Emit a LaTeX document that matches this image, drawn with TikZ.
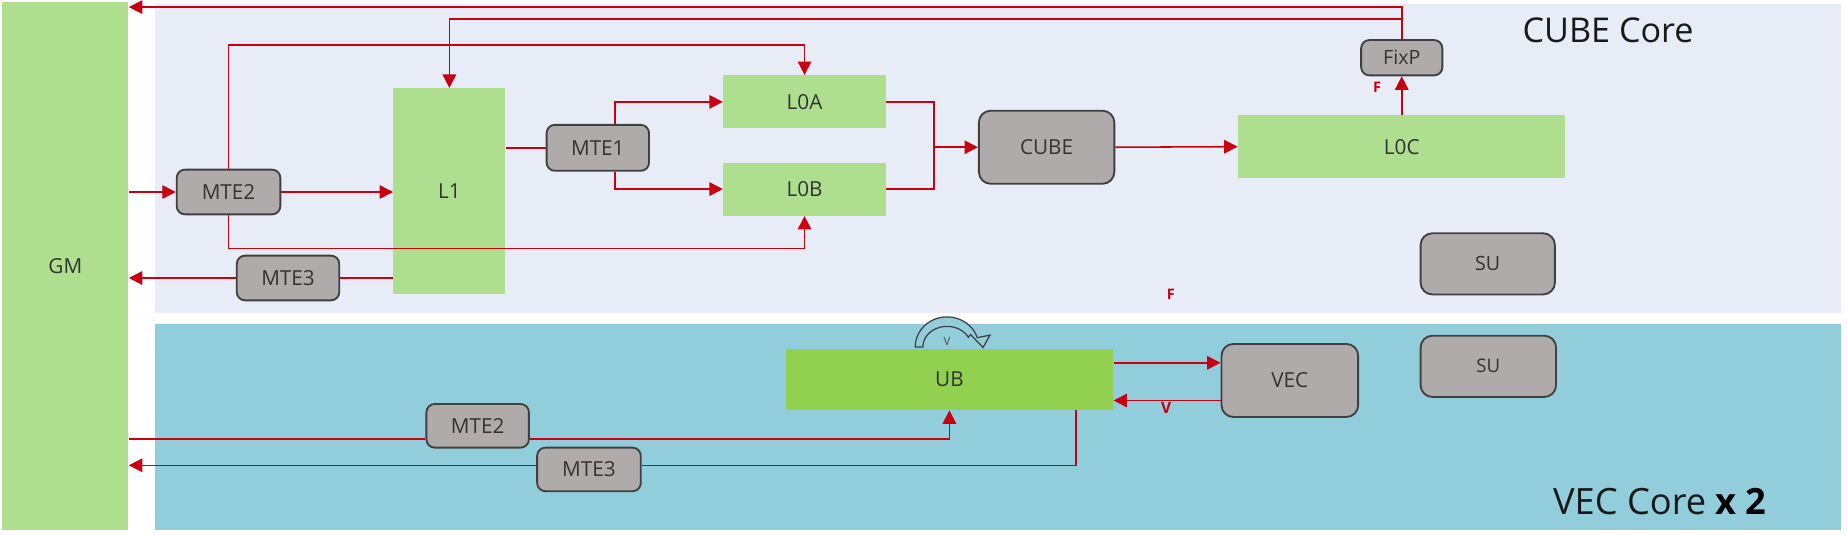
\documentclass[tikz,border=0pt]{standalone}
\usepackage{fontspec}
\setmainfont{Open Sans}
\usetikzlibrary{arrows.meta}
\definecolor{cubebg}{RGB}{232,236,247}
\definecolor{vecbg}{RGB}{146,205,220}
\definecolor{memgrn}{RGB}{173,223,143}
\definecolor{ubgrn}{RGB}{146,208,80}
\definecolor{unitgray}{RGB}{175,171,171}
\definecolor{wirered}{RGB}{200,0,16}
\begin{document}
\begin{tikzpicture}[x=0.02cm, y=0.02cm, >={Triangle[length=6.5pt,width=6.5pt]}, every node/.style={font=\fontsize{10}{11}\selectfont, text=black!80}]
  \tikzstyle{mem}=[fill=memgrn, inner sep=0pt]
  \tikzstyle{unit}=[draw=black!75, fill=unitgray, rounded corners=0.14cm, line width=0.9pt, inner sep=0pt]
  \tikzstyle{wire}=[wirered, line width=0.75pt]
  \tikzstyle{tag}=[text=wirered, font=\fontsize{7}{7}\selectfont\bfseries, inner sep=0pt]
  \useasboundingbox (0,0) rectangle (1568,454);
  \fill[cubebg] (132,188) rectangle (1563,451);
  \fill[vecbg] (132,4) rectangle (1563,179);
  \node[mem, minimum width=2.14cm, minimum height=8.96cm] (gm) at (55.5,228) {GM};
  \node[unit, minimum width=1.76cm, minimum height=0.76cm] (mteA) at (194,291) {MTE2};
  \node[mem, minimum width=1.9cm, minimum height=3.5cm] (lone) at (381.5,291.5) {L1};
  \node[unit, minimum width=1.74cm, minimum height=0.76cm] (mteB) at (244.5,218) {MTE3};
  \node[unit, minimum width=1.74cm, minimum height=0.78cm] (mteC) at (507.5,328.5) {MTE1};
  \node[mem, minimum width=2.76cm, minimum height=0.9cm] (lza) at (683,367.5) {L0A};
  \node[mem, minimum width=2.76cm, minimum height=0.9cm] (lzb) at (683,293.5) {L0B};
  \node[unit, rounded corners=0.2cm, minimum width=2.3cm, minimum height=1.24cm] (cube) at (888.5,329) {CUBE};
  \node[mem, minimum width=5.56cm, minimum height=1.06cm] (lzc) at (1190,329.5) {L0C};
  \node[unit, minimum width=1.38cm, minimum height=0.6cm, font=\fontsize{9.5}{10}\selectfont] (fixp) at (1190,405) {FixP};
  \node[unit, rounded corners=0.2cm, minimum width=2.28cm, minimum height=1.04cm, font=\fontsize{9.5}{10}\selectfont] (suA) at (1263,230) {SU};
  \node[font=\fontsize{16.5}{18}\selectfont, text=black!90, anchor=base east] (cubettl) at (1444,417.5) {CUBE Core};
  \node[mem, fill=ubgrn, minimum width=5.56cm, minimum height=1.04cm] (ub) at (806,132) {UB};
  \node[unit, rounded corners=0.2cm, minimum width=2.32cm, minimum height=1.24cm] (vec) at (1095,131) {VEC};
  \node[unit, rounded corners=0.2cm, minimum width=2.3cm, minimum height=1.04cm, font=\fontsize{9}{10}\selectfont] (suB) at (1263.5,143) {SU};
  \node[unit, minimum width=1.74cm, minimum height=0.74cm] (mteD) at (405.5,92.5) {MTE2};
  \node[unit, minimum width=1.76cm, minimum height=0.74cm] (mteE) at (500,55.5) {MTE3};
  \node[font=\fontsize{17.5}{19}\selectfont, text=black!90, anchor=base east] (vecttl) at (1506,17) {VEC Core \textbf{\color{black}x 2}};
  \coordinate (railA) at (0,448);
  \coordinate (railB) at (0,438);
  \coordinate (railC) at (0,416);
  \coordinate (railD) at (0,243);
  \coordinate (tapC) at (522,0);
  \coordinate (mrg) at (793,329);
  \coordinate (vecA) at (0,146);
  \coordinate (vecB) at (0,114);
  \coordinate (railE) at (0,81.5);
  \coordinate (railF) at (0,59);
  \coordinate (tapU) at (913.5,0);
  \draw[wire,->] (fixp.north) -- (fixp.north |- railA) -- (gm.east |- railA);
  \draw[wire,->] (fixp.north |- railB) -| (lone.north);
  \draw[wire,->] (mteA.north) -- (mteA.north |- railC) -| (lza.north);
  \draw[wire,->] (mteA.south) -- (mteA.south |- railD) -| (lzb.south);
  \draw[wire,->] (gm.east |- mteA) -- (mteA.west);
  \draw[wire,->] (mteA.east) -- (lone.west |- mteA.east);
  \draw[wire] (lone.west |- mteB) -- (mteB.east);
  \draw[wire,->] (mteB.west) -- (gm.east |- mteB);
  \draw[wire] (lone.east |- mteC) -- (mteC.west);
  \draw[wire,->] (mteC.north -| tapC) |- (lza.west);
  \draw[wire,->] (mteC.south -| tapC) |- (lzb.west);
  \draw[wire] (lza.east) -| (mrg) |- (lzb.east);
  \draw[wire,->] (mrg) -- (cube.west);
  \draw[wire,->] (cube.east) -- (lzc.west);
  \draw[wire,->] (lzc.north) -- (fixp.south);
  \node[tag] (fA) at (1169,380) {F};
  \node[tag] (fB) at (994,204) {F};
  \draw[wire,->] (ub.east |- vecA) -- (vec.west |- vecA);
  \draw[wire,->] (vec.west |- vecB) -- (ub.east |- vecB);
  \node[tag, font=\fontsize{7.5}{8}\selectfont\bfseries] (vB) at (990,107.5) {V};
  \draw[wire] (gm.east |- railE) -- (mteD.west |- railE);
  \draw[wire,->] (mteD.east |- railE) -| (ub.south);
  \draw[wire] (ub.south -| tapU) |- (mteE.east |- railF);
  \draw[wire,->] (mteE.west |- railF) -- (gm.east |- railF);
  \filldraw[fill=vecbg, draw=black!75, line width=0.6pt] (777,159.5) arc[start angle=180, end angle=18, x radius=0.54cm, y radius=0.51cm] -- (840.5,169.5) -- (834.5,159) -- (824,170) -- (822.1,167.7) arc[start angle=28, end angle=180, x radius=0.41cm, y radius=0.35cm] -- cycle;
  \node[font=\fontsize{5.5}{6}\selectfont, text=black!70, inner sep=0pt] (vA) at (804,164) {V};
\end{tikzpicture}
\end{document}
